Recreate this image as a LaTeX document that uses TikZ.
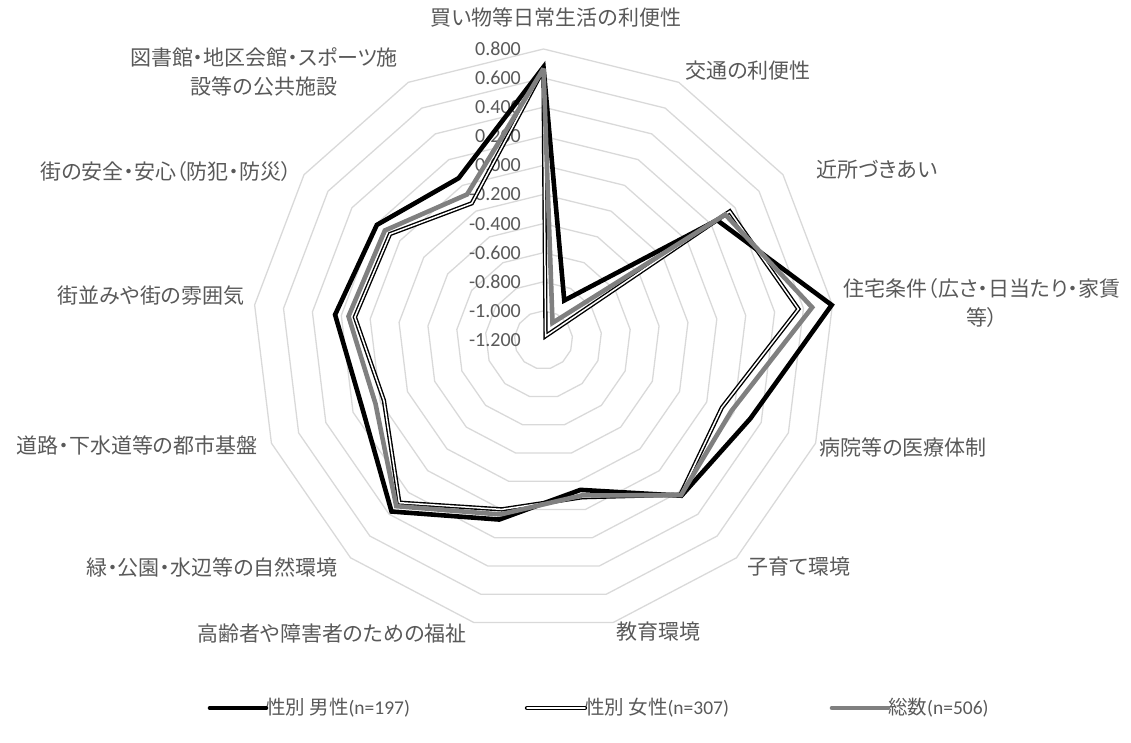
\documentclass[tikz,border=0pt]{standalone}
\usepackage{fontspec}
\setmainfont{Carlito}
\newfontfamily\jpfont[RawFeature = +palt]{Noto Sans CJK JP}
\definecolor{labelgray}{HTML}{595959}
\definecolor{gridgray}{HTML}{D9D9D9}
\definecolor{sumgray}{HTML}{808080}
\tikzset{
	radar/.style = {shift = {(543.5pt, 402pt)}, x = 145.5pt, y = 145.5pt},
	axislabel/.style = {text = labelgray, font = \jpfont\fontsize{21}{29}\selectfont, align = center, inner sep = 0pt},
	ticklabel/.style = {text = labelgray, font = \fontsize{20}{24}\selectfont, anchor = east, inner sep = 0pt},
	legendlabel/.style = {text = labelgray, font = \fontsize{19.5}{24}\selectfont, anchor = west, inner sep = 0pt},
	ring/.style = {draw = gridgray, line width = 1.3pt},
	maleline/.style = {draw = black, line width = 4.6pt, miter limit = 3},
	femaleline/.style = {draw = black, double = white, double distance = 1.5pt, line width = 1.4pt, miter limit = 3},
	sumline/.style = {draw = sumgray, line width = 4.6pt, miter limit = 3},
}
\begin{document}
\begin{tikzpicture}[x = 1pt, y = 1pt]
		\useasboundingbox (0, 0) rectangle (1131, 742);

		% grid
		\begin{scope}[radar]
			\foreach \i in {1, ..., 10}
				\draw[ring] (90:{\i/5}) \foreach \k in {1, ..., 12} {-- ({90 - \k*360/13}:{\i/5})} -- cycle;
		\end{scope}

		\node[ticklabel] (t08) at (521, 693) {0.800};
		\node[ticklabel] (t06) at (521, 663.9) {0.600};
		\node[ticklabel] (t04) at (521, 634.8) {0.400};
		\node[ticklabel] (t02) at (521, 605.7) {0.200};
		\node[ticklabel] (t00) at (521, 576.6) {0.000};
		\node[ticklabel] (tm02) at (521, 547.5) {-0.200};
		\node[ticklabel] (tm04) at (521, 518.4) {-0.400};
		\node[ticklabel] (tm06) at (521, 489.3) {-0.600};
		\node[ticklabel] (tm08) at (521, 460.2) {-0.800};
		\node[ticklabel] (tm10) at (521, 431.1) {-1.000};
		\node[ticklabel] (tm12) at (521, 402) {-1.200};

		% series
		\begin{scope}[radar]
			\draw[maleline] (90:1.876) -- (62.31:0.307) -- (34.62:1.45) -- (6.92:1.995) -- (-20.77:1.521) -- (-48.46:1.43) -- (-76.15:1.061) -- (-103.85:1.271) -- (-131.54:1.575) -- (-159.23:1.331) -- (-186.92:1.443) -- (-214.62:1.392) -- (-242.31:1.256) -- cycle;
			\draw[femaleline] (90:1.86) -- (62.31:0.03) -- (34.62:1.556) -- (6.92:1.765) -- (-20.77:1.311) -- (-48.46:1.42) -- (-76.15:1.113) -- (-103.85:1.199) -- (-131.54:1.494) -- (-159.23:1.173) -- (-186.92:1.306) -- (-214.62:1.282) -- (-242.31:1.061) -- cycle;
			\draw[sumline] (90:1.865) -- (62.31:0.133) -- (34.62:1.518) -- (6.92:1.86) -- (-20.77:1.38) -- (-48.46:1.425) -- (-76.15:1.1) -- (-103.85:1.235) -- (-131.54:1.526) -- (-159.23:1.235) -- (-186.92:1.35) -- (-214.62:1.325) -- (-242.31:1.13) -- cycle;
		\end{scope}

		\node[axislabel] (shop) at (556, 724) {買い物等日常生活の利便性};
		\node[axislabel] (traffic) at (748, 671) {交通の利便性};
		\node[axislabel] (neighbour) at (877, 572) {近所づきあい};
		\node[axislabel] (housing) at (982, 439) {住宅条件（広さ・日当たり・家賃\\等）};
		\node[axislabel] (medical) at (903, 295) {病院等の医療体制};
		\node[axislabel] (childcare) at (799, 175) {子育て環境};
		\node[axislabel] (education) at (658, 110) {教育環境};
		\node[axislabel] (welfare) at (332, 108) {高齢者や障害者のための福祉};
		\node[axislabel] (nature) at (212, 175) {緑・公園・水辺等の自然環境};
		\node[axislabel] (infra) at (137, 297) {道路・下水道等の都市基盤};
		\node[axislabel] (townscape) at (151, 446) {街並みや街の雰囲気};
		\node[axislabel] (safety) at (166, 570) {街の安全・安心（防犯・防災）};
		\node[axislabel] (public) at (264, 670) {図書館・地区会館・スポーツ施\\設等の公共施設};

		% legend
		\node[legendlabel] (legmale) at (266, 34) {{\jpfont 性別 男性}(n=197)};
		\node[legendlabel] (legfemale) at (585, 34) {{\jpfont 性別 女性}(n=307)};
		\node[legendlabel] (legsum) at (888, 34) {{\jpfont 総数}(n=506)};
		\draw[maleline, line cap = round] ([xshift = -56pt] legmale.west) -- (legmale.west);
		\draw[femaleline, line cap = round] ([xshift = -58pt] legfemale.west) -- (legfemale.west);
		\draw[sumline, line cap = round] ([xshift = -56pt] legsum.west) -- (legsum.west);
\end{tikzpicture}
\end{document}
